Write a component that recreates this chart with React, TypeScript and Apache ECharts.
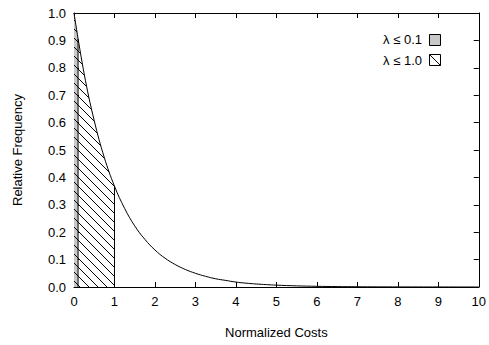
import React, { useEffect, useRef } from 'react';
import * as echarts from 'echarts';

// Normalized costs (x) and relative frequency (y)
const costX = [0, 0.25, 0.5, 0.75, 1.0, 1.25, 1.5, 1.75, 2.0, 2.25, 2.5, 2.75, 3.0, 3.25, 3.5, 3.75, 4.0, 4.25, 4.5, 4.75, 5.0, 5.5, 6.0, 6.5, 7.0, 7.5, 8.0, 8.5, 9.0, 9.5, 10.0];
const freqY = [1.0, 0.779, 0.607, 0.472, 0.368, 0.287, 0.223, 0.174, 0.135, 0.105, 0.082, 0.064, 0.05, 0.039, 0.03, 0.024, 0.018, 0.014, 0.011, 0.0087, 0.0067, 0.0041, 0.0025, 0.0015, 0.0009, 0.00055, 0.00034, 0.0002, 0.00012, 0.00008, 0.00005];
// Shaded strip λ ≤ 0.1
const lowX = [0, 0.05, 0.1];
const lowY = [1.0, 0.951, 0.905];
const lambdaLow = 0.1;
const lambdaHigh = 1.0;
const legendLabels = ['λ ≤ 0.1', 'λ ≤ 1.0'];
const xAxisTitle = 'Normalized Costs';
const yAxisTitle = 'Relative Frequency';

const FONT = '"Liberation Sans", Arial, Helvetica, sans-serif';
const FS = 13;

export default function App() {
  const ref = useRef<HTMLDivElement>(null);
  useEffect(() => {
    if (!ref.current) return;
    const chart = echarts.init(ref.current, undefined, { renderer: 'svg' });

    const pts = costX.map((x, i) => [x, freqY[i]]);
    const lowPts = lowX.map((x, i) => [x, lowY[i]]);
    const highPts = pts.filter((p) => p[0] <= lambdaHigh + 1e-9);
    const lowTop = lowY[lowX.indexOf(lambdaLow)];
    const highTop = freqY[costX.indexOf(lambdaHigh)];

    const cv = document.createElement('canvas');
    const S = 9;
    cv.width = S;
    cv.height = S;
    const ctx = cv.getContext('2d')!;
    ctx.strokeStyle = '#000';
    ctx.lineWidth = 1;
    ctx.beginPath();
    ctx.moveTo(-2, -2);
    ctx.lineTo(S + 2, S + 2);
    ctx.moveTo(-2, S - 2);
    ctx.lineTo(2, S + 2);
    ctx.moveTo(S - 2, -2);
    ctx.lineTo(S + 2, 2);
    ctx.stroke();
    const hatch: any = { image: cv, repeat: 'repeat', imageWidth: S, imageHeight: S };

    const labelStyle = { color: '#000', fontSize: FS, fontFamily: FONT };
    const axisCommon = {
      axisLine: { show: true, onZero: false, lineStyle: { color: '#000', width: 1 } },
      axisTick: { show: true, inside: true, length: 5, lineStyle: { color: '#000', width: 1 } },
      splitLine: { show: false },
    };

    const lineSeries = (data: number[][], extra: any) => ({
      type: 'line',
      data,
      symbol: 'none',
      showSymbol: false,
      smooth: 0.4,
      silent: true,
      ...extra,
    });

    chart.setOption({
      animation: false,
      backgroundColor: '#fff',
      grid: { left: 74, right: 5, top: 13, bottom: 58, containLabel: false },
      xAxis: [
        {
          type: 'value', min: 0, max: 10, interval: 1, position: 'bottom',
          name: xAxisTitle, nameLocation: 'middle', nameGap: 39,
          nameTextStyle: { ...labelStyle },
          axisLabel: { ...labelStyle, margin: 8 },
          ...axisCommon,
        },
        {
          type: 'value', min: 0, max: 10, interval: 1, position: 'top',
          axisLabel: { show: false },
          ...axisCommon,
        },
      ],
      yAxis: [
        {
          type: 'value', min: 0, max: 1, interval: 0.1, position: 'left',
          name: yAxisTitle, nameLocation: 'middle', nameGap: 50,
          nameTextStyle: { ...labelStyle },
          axisLabel: { ...labelStyle, margin: 8, formatter: (v: number) => v.toFixed(1) },
          ...axisCommon,
        },
        {
          type: 'value', min: 0, max: 1, interval: 0.1, position: 'right',
          axisLabel: { show: false },
          ...axisCommon,
        },
      ],
      series: [
        lineSeries(lowPts, {
          z: 1,
          smooth: false,
          lineStyle: { width: 0, opacity: 0 },
          areaStyle: { color: '#c8c8c8', opacity: 1 },
        }),
        lineSeries(highPts, {
          z: 2,
          lineStyle: { width: 0, opacity: 0 },
          areaStyle: { color: hatch, opacity: 1 },
        }),
        lineSeries([[lambdaLow, 0], [lambdaLow, lowTop]], {
          z: 3, smooth: false, lineStyle: { color: '#000', width: 1 },
        }),
        lineSeries([[lambdaHigh, 0], [lambdaHigh, highTop]], {
          z: 3, smooth: false, lineStyle: { color: '#000', width: 1 },
        }),
        lineSeries(pts, {
          z: 4,
          lineStyle: { color: '#000', width: 1 },
        }),
      ],
      graphic: [
        {
          type: 'text', right: 67, top: 33,
          style: { text: legendLabels[0], fill: '#000', fontSize: FS, fontFamily: FONT },
        },
        {
          type: 'rect', shape: { x: 429.5, y: 34.5, width: 11, height: 11 },
          style: { fill: '#c8c8c8', stroke: '#000', lineWidth: 1 },
        },
        {
          type: 'text', right: 67, top: 54,
          style: { text: legendLabels[1], fill: '#000', fontSize: FS, fontFamily: FONT },
        },
        {
          type: 'rect', shape: { x: 429.5, y: 54.5, width: 11, height: 11 },
          style: { fill: '#fff', stroke: '#000', lineWidth: 1 },
        },
        {
          type: 'line', shape: { x1: 429.5, y1: 54.5, x2: 440.5, y2: 65.5 },
          style: { stroke: '#000', lineWidth: 1 },
        },
      ],
    });
    return () => chart.dispose();
  }, []);
  return (
    <div
      ref={ref}
      style={{ position: 'absolute', left: 0, top: 0, width: 489, height: 345, background: '#fff' }}
    />
  );
}
